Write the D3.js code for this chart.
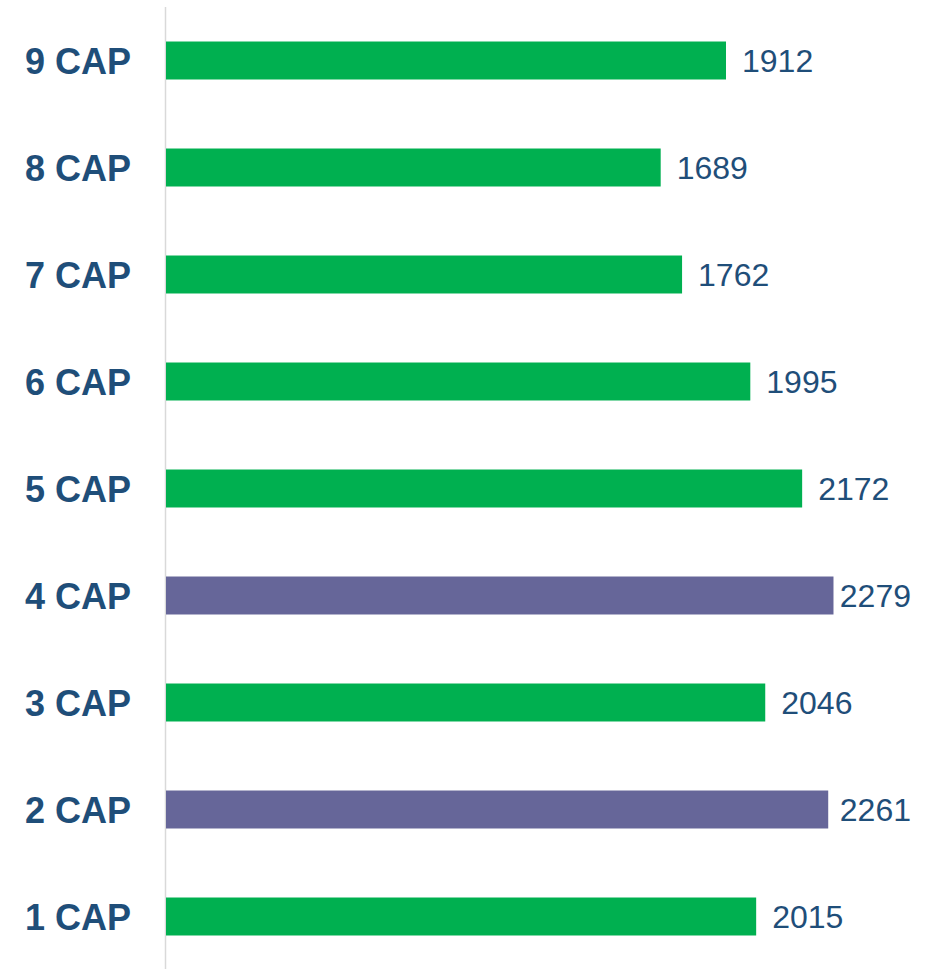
<!DOCTYPE html>
<html>
<head>
<meta charset="utf-8">
<script src="https://cdn.jsdelivr.net/npm/d3@7"></script>
<style>
  body { margin: 0; background: #fff; }
  text { font-family: Arial, "Liberation Sans", sans-serif; }
</style>
</head>
<body>
<script>
(function(){

    //chart data, top row first
    var categories = ["9 CAP", "8 CAP", "7 CAP", "6 CAP", "5 CAP", "4 CAP", "3 CAP", "2 CAP", "1 CAP"];
    var values = [1912, 1689, 1762, 1995, 2172, 2279, 2046, 2261, 2015];
    var highlighted = ["4 CAP", "2 CAP"]; //bars drawn in purple

    var width = 940,
        height = 969,
        axisX = 165.5;

    var svg = d3.select("body")
        .append("svg")
        .attr("width", width)
        .attr("height", height);

    //x scale: pixels per unit
    var xScale = d3.scaleLinear()
        .domain([0, 1912])
        .range([166, 726]);

    //band scale for rows
    var yScale = d3.scaleBand()
        .domain(categories)
        .range([7, 970])
        .paddingInner(0.645)
        .paddingOuter(0.3225);

    //vertical axis line
    svg.append("line")
        .attr("x1", axisX)
        .attr("x2", axisX)
        .attr("y1", 7)
        .attr("y2", height)
        .attr("stroke", "#d9d9d9")
        .attr("stroke-width", 1.5);

    //bars
    svg.selectAll(".bar")
        .data(values)
        .enter()
        .append("rect")
        .attr("class", "bar")
        .attr("x", xScale(0))
        .attr("y", function(d, i){ return yScale(categories[i]); })
        .attr("width", function(d){ return xScale(d) - xScale(0); })
        .attr("height", yScale.bandwidth())
        .attr("fill", function(d, i){
            return highlighted.indexOf(categories[i]) >= 0 ? "#666699" : "#00B050";
        });

    //category labels
    svg.selectAll(".cat")
        .data(categories)
        .enter()
        .append("text")
        .attr("class", "cat")
        .attr("x", 131)
        .attr("y", function(d){ return yScale(d) + yScale.bandwidth() / 2 + 13; })
        .attr("text-anchor", "end")
        .attr("font-size", 36)
        .attr("font-weight", "bold")
        .attr("fill", "#1F4E79")
        .text(function(d){ return d; });

    //value labels, pulled in if they would run past the right edge
    svg.selectAll(".val")
        .data(values)
        .enter()
        .append("text")
        .attr("class", "val")
        .attr("y", function(d, i){ return yScale(categories[i]) + yScale.bandwidth() / 2 + 11.5; })
        .attr("font-size", 32)
        .attr("fill", "#1F4E79")
        .text(function(d){ return d; })
        .attr("x", function(d){
            var w = this.getComputedTextLength();
            return Math.min(xScale(d) + 16, 911 - w);
        });

})();
</script>
</body>
</html>
